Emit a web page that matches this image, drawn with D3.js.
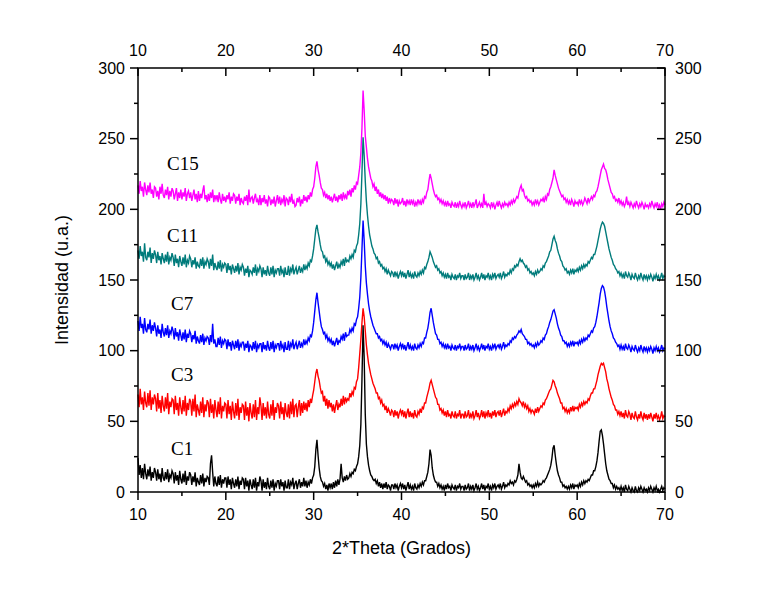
<!DOCTYPE html>
<html>
<head>
<meta charset="utf-8">
<script src="https://cdn.jsdelivr.net/npm/d3@7"></script>
<style>
  body { margin: 0; background: #fff; }
  .tick-label { font-family: "Liberation Sans", Arial, sans-serif; font-size: 16px; fill: #000; }
  .axis-title { font-family: "Liberation Sans", Arial, sans-serif; font-size: 18px; fill: #000; }
  .series-label { font-family: "Liberation Serif", "Times New Roman", serif; font-size: 19px; fill: #000; }
</style>
</head>
<body>
<div id="xrd-chart"></div>
<script>
// 2-theta grid: 10 .. 70 deg, one reading every 0.125 deg (481 readings per pattern)
const thetaStart = 10;
const thetaStep = 0.125;

const xTicks = [10, 20, 30, 40, 50, 60, 70];
const yTicks = [0, 50, 100, 150, 200, 250, 300];

const seriesNames = ['C15', 'C11', 'C7', 'C3', 'C1'];
const seriesColors = ['#ff00ff', '#007b7b', '#0000ff', '#ff0000', '#000000'];

// intensities, 8 readings per degree (one row = 2 degrees)
const c15 = [
  217,211,220,213,216,209,219,214, 210,217,212,219,211,214,208,216,
  215,209,213,207,216,211,218,210, 208,214,210,216,207,213,209,215,
  213,207,211,215,206,212,208,214, 207,212,209,215,206,211,213,208,
  212,206,210,214,207,211,205,213, 206,211,208,213,217,207,210,205,
  211,206,212,208,214,205,210,207, 210,205,212,207,204,211,206,209,
  205,210,207,212,204,209,206,211, 210,204,209,206,211,203,208,205,
  204,209,206,210,203,214,205,208, 209,204,208,211,205,207,203,210,
  203,208,205,210,204,207,202,209, 208,203,207,204,209,202,206,210,
  204,209,203,207,205,210,202,208, 207,203,209,205,211,204,206,202,
  203,208,205,209,202,207,204,210, 206,209,205,210,207,212,209,214,
  216,222,230,234,228,224,219,215, 214,210,212,208,211,207,210,206,
  209,205,208,211,206,209,205,210, 207,211,206,212,208,210,207,213,
  210,214,209,215,212,217,214,219, 218,224,230,240,258,284,270,252,
  244,236,230,226,222,220,216,218, 213,216,211,214,209,212,208,211,
  207,210,206,209,204,208,205,207, 206,203,208,204,207,202,206,204,
  205,208,203,206,202,207,204,206, 203,207,204,206,202,205,203,207,
  204,206,203,207,205,209,208,212, 214,220,225,222,218,214,211,209,
  210,207,208,205,207,204,206,203, 205,202,206,203,204,201,205,203,
  202,205,201,204,202,206,203,201, 204,202,205,201,203,206,202,204,
  201,205,202,204,207,201,203,205, 202,204,201,211,203,205,202,204,
  203,201,205,202,204,200,203,205, 202,206,203,201,204,202,205,203,
  204,202,205,203,206,204,207,205, 207,209,208,212,215,217,213,214,
  210,208,209,206,207,205,206,203, 205,203,207,204,206,203,205,207,
  206,208,205,209,207,211,210,214, 216,219,222,228,224,221,218,215,
  213,211,209,210,207,208,205,207, 204,206,203,207,205,202,206,204,
  205,203,207,204,206,203,205,208, 206,204,208,205,207,209,207,210,
  209,212,213,216,220,224,228,230, 232,229,228,225,221,218,215,212,
  211,208,209,206,207,205,208,204, 206,203,205,202,204,209,203,205,
  202,205,203,201,204,202,206,203, 201,204,202,205,203,200,204,202,
  203,201,204,202,206,203,201,204, 202,205,201,203,200,204,202,205,
  203
];
const c11 = [
  171,165,174,167,170,163,176,166, 164,170,166,173,162,169,165,171,
  168,162,170,164,167,161,169,165, 162,168,163,170,161,166,164,169,
  166,160,168,162,165,159,167,163, 160,166,161,168,159,164,162,167,
  165,159,164,161,166,158,163,160, 159,165,160,166,158,163,161,165,
  163,158,165,160,168,157,162,159, 157,163,158,164,156,161,159,162,
  161,155,162,157,160,154,161,158, 155,160,156,162,154,159,157,161,
  159,153,158,155,160,152,157,156, 154,159,155,161,153,158,156,160,
  158,152,159,154,157,153,160,155, 153,159,154,160,152,157,155,158,
  158,153,160,155,157,152,159,154, 154,160,153,158,156,161,154,157,
  159,154,157,160,155,158,156,161, 157,160,158,162,160,164,163,167,
  172,179,186,189,184,180,175,171, 170,166,167,163,165,161,163,160,
  162,158,161,157,160,163,158,161, 159,163,161,165,160,166,163,164,
  163,167,165,168,166,171,170,174, 176,182,190,204,226,251,238,220,
  206,196,188,182,178,174,172,169, 168,165,166,162,163,160,161,158,
  159,156,158,154,157,155,153,156, 155,152,156,153,155,151,154,156,
  153,156,152,155,151,154,157,152, 155,152,154,151,156,153,152,155,
  153,156,154,157,155,159,158,161, 163,166,170,168,166,163,161,159,
  160,157,158,155,156,153,155,152, 154,151,155,152,153,150,154,152,
  151,154,150,153,152,155,151,153, 153,150,154,151,152,155,150,153,
  151,154,150,152,155,151,153,150, 152,155,151,154,150,153,152,155,
  151,153,150,154,152,155,151,153, 154,152,155,151,153,156,152,154,
  153,155,154,157,155,158,157,160, 159,161,160,163,165,163,164,162,
  161,159,160,157,158,155,156,154, 155,153,156,154,157,155,156,158,
  157,160,159,162,163,165,167,170, 171,175,179,181,178,176,172,169,
  167,164,163,160,159,157,158,155, 156,154,157,155,158,154,157,156,
  158,156,159,157,160,158,161,159, 161,160,163,162,164,166,165,168,
  168,171,174,178,182,186,189,191, 190,188,184,180,176,172,169,166,
  164,161,160,158,157,155,156,153, 155,152,154,151,156,153,152,155,
  153,150,154,152,151,155,152,150, 153,151,155,152,150,154,151,153,
  150,153,151,154,152,149,153,151, 154,151,153,150,152,155,151,153,
  152
];
const c7 = [
  121,114,124,116,119,112,123,115, 113,119,115,122,112,118,114,120,
  116,110,118,112,115,109,119,113, 110,116,111,118,109,114,112,117,
  114,108,116,110,113,107,115,111, 107,113,108,115,106,112,109,114,
  112,106,111,108,114,105,110,107, 105,111,106,112,104,109,107,110,
  109,104,111,106,119,105,108,103, 103,109,104,110,102,107,105,108,
  107,101,108,103,106,100,107,104, 101,107,102,108,100,105,103,106,
  106,100,105,102,107,99,104,103, 100,106,101,107,99,104,102,105,
  105,99,106,101,104,100,107,102, 100,106,101,107,99,104,102,105,
  105,100,107,102,104,99,106,101, 101,107,100,105,103,108,101,104,
  106,101,104,107,102,105,103,108, 104,107,105,109,107,111,110,114,
  120,128,136,141,134,128,122,117, 115,112,113,109,111,107,109,106,
  108,104,107,103,106,109,104,107, 106,110,108,112,107,113,110,111,
  111,115,113,116,114,119,118,122, 124,130,138,152,172,192,178,160,
  148,140,133,128,124,121,118,116, 114,112,112,109,110,107,108,105,
  107,104,106,102,105,103,101,104, 104,101,105,102,104,100,103,105,
  102,105,101,104,100,103,106,101, 104,101,103,100,105,102,101,104,
  102,105,103,106,105,109,109,113, 116,121,127,130,125,120,116,112,
  111,108,108,105,106,103,105,102, 104,101,105,102,103,100,104,102,
  101,104,100,103,102,105,101,103, 103,100,104,101,102,105,100,103,
  101,104,100,102,105,101,103,100, 102,105,101,104,100,103,102,105,
  101,103,100,104,102,105,101,103, 104,102,105,101,103,106,102,104,
  103,105,104,107,106,109,108,110, 109,111,112,114,113,115,112,111,
  110,108,108,105,106,104,105,103, 104,102,105,103,106,104,105,107,
  106,109,108,111,112,115,117,120, 122,125,128,129,126,123,119,116,
  114,111,110,107,107,105,106,103, 105,103,106,104,107,103,106,105,
  106,104,107,105,108,106,109,107, 109,108,111,110,112,114,113,116,
  117,120,124,129,134,140,144,146, 145,142,137,131,126,121,117,114,
  112,109,108,106,105,103,104,101, 104,101,103,100,105,102,101,104,
  102,99,103,101,100,104,101,99, 102,100,104,101,99,103,100,102,
  99,102,100,103,101,98,102,100, 103,100,102,99,101,104,100,102,
  101
];
const c3 = [
  69,60,73,62,67,58,71,63, 60,70,61,72,58,67,62,69,
  66,57,70,59,65,56,68,61, 57,67,59,70,55,64,60,66,
  65,55,68,58,63,54,67,60, 55,65,57,68,54,63,58,66,
  64,54,66,57,69,53,62,58, 54,64,56,67,53,62,57,65,
  63,53,66,56,62,52,65,58, 53,64,55,67,52,61,57,63,
  62,52,65,55,61,51,64,57, 52,63,54,66,51,60,56,62,
  61,51,64,54,60,50,63,56, 52,62,53,65,51,60,55,67,
  61,51,63,54,60,52,64,55, 52,62,54,65,51,60,56,63,
  61,52,64,55,60,51,63,56, 53,62,52,64,55,66,53,61,
  62,53,60,65,54,63,56,64, 58,63,57,65,60,66,63,68,
  72,78,84,87,82,79,74,70, 71,64,68,61,66,59,65,60,
  63,57,62,56,61,65,58,62, 60,66,61,68,62,67,64,66,
  65,70,67,71,69,74,73,78, 80,88,98,108,120,130,124,114,
  104,97,91,87,83,80,77,75, 73,70,70,66,67,63,65,61,
  62,58,61,56,59,57,54,58, 57,53,58,54,57,52,56,58,
  55,58,53,57,52,56,59,53, 57,53,56,52,58,54,53,57,
  55,59,56,60,59,63,63,67, 70,73,77,79,76,73,70,67,
  66,62,62,58,59,56,58,54, 57,53,58,54,55,52,57,54,
  53,57,52,55,54,58,52,55, 55,52,57,53,54,58,52,55,
  53,57,52,54,58,53,56,52, 54,58,53,57,52,56,54,58,
  53,56,52,57,54,58,53,56, 57,54,58,53,56,59,54,57,
  56,59,57,61,59,62,60,63, 61,64,62,66,64,63,61,64,
  60,62,59,61,57,59,56,58, 57,55,59,56,60,57,59,61,
  60,63,62,65,66,68,70,72, 73,76,79,78,75,73,70,68,
  66,63,63,59,60,57,59,56, 58,56,60,57,61,57,60,59,
  60,58,62,60,63,61,64,62, 64,63,66,65,68,70,70,73,
  73,76,79,83,86,89,91,90, 91,88,85,80,77,73,70,67,
  65,62,61,58,58,55,57,54, 57,53,56,52,58,54,53,57,
  55,51,56,53,52,57,53,51, 55,52,57,53,51,56,52,55,
  51,55,52,56,53,50,55,52, 56,52,54,51,53,57,52,54,
  53
];
const c1 = [
  24,12,19,10,17,9,20,13, 9,16,11,18,8,14,10,17,
  14,8,16,9,13,7,17,10, 8,14,9,16,7,12,10,15,
  13,6,14,8,12,5,15,9, 6,13,7,15,5,11,8,14,
  12,5,11,7,14,4,10,7, 5,12,6,13,4,10,7,11,
  10,5,20,26,14,4,11,6, 4,11,5,12,3,9,6,10,
  10,3,11,5,9,2,10,6, 3,9,4,11,2,8,5,10,
  9,2,10,4,8,1,9,5, 2,9,3,10,1,7,4,11,
  8,1,9,3,7,2,10,4, 2,8,3,9,1,6,4,8,
  8,2,9,4,7,1,8,3, 3,9,2,7,5,10,2,6,
  8,2,6,9,3,7,4,10, 4,8,3,7,5,9,6,10,
  12,18,30,37,26,17,11,8, 7,4,6,2,5,1,6,3,
  6,2,7,3,8,4,9,5, 9,20,10,7,11,8,12,9,
  10,13,11,14,13,16,15,18, 20,25,33,48,80,118,95,55,
  34,25,19,15,12,11,9,8, 9,6,8,4,7,3,6,2,
  6,3,7,2,5,4,1,5, 5,2,6,3,5,1,4,6,
  3,6,2,5,1,4,7,2, 5,2,4,1,6,3,2,5,
  3,6,4,7,5,8,8,11, 14,20,30,26,17,12,9,7,
  7,4,6,3,5,2,4,1, 5,2,6,3,4,1,5,3,
  2,5,1,4,3,6,2,4, 4,1,5,2,3,6,1,4,
  2,5,1,3,6,2,4,1, 3,6,2,5,1,4,3,6,
  2,4,1,5,3,6,2,4, 5,3,6,2,4,7,3,5,
  4,6,5,8,6,7,5,8, 7,9,12,20,14,10,9,11,
  9,7,8,5,6,4,5,3, 5,3,6,4,7,4,6,5,
  6,8,7,9,10,12,14,16, 19,24,31,33,26,20,15,12,
  10,7,7,4,5,3,4,2, 4,2,5,3,6,2,5,4,
  5,3,6,4,7,5,8,6, 8,7,9,8,10,12,12,15,
  15,18,22,28,36,43,44,40, 34,27,20,15,12,9,8,6,
  6,3,5,2,4,2,3,1, 4,1,3,0,5,2,1,4,
  2,0,3,1,0,4,1,0, 3,1,4,2,0,3,1,2,
  0,3,1,4,2,0,3,1, 4,1,2,0,2,4,1,3,
  2
];

class XrdChart {
  constructor(_config, _series) {
    this.config = {
      parentElement: _config.parentElement,
      containerWidth: 773,
      containerHeight: 591,
      margin: {top: 68, right: 108, bottom: 99, left: 138},
      majorTick: 8,
      minorTick: 4
    };
    this.series = _series;
    this.initVis();
  }

  initVis() {
    let vis = this;
    vis.width = vis.config.containerWidth - vis.config.margin.left - vis.config.margin.right;
    vis.height = vis.config.containerHeight - vis.config.margin.top - vis.config.margin.bottom;

    vis.svg = d3.select(vis.config.parentElement)
      .append('svg')
      .attr('width', vis.config.containerWidth)
      .attr('height', vis.config.containerHeight)
      .append('g')
      .attr('transform', `translate(${vis.config.margin.left},${vis.config.margin.top})`);

    vis.xScale = d3.scaleLinear().domain([10, 70]).range([0, vis.width]);
    vis.yScale = d3.scaleLinear().domain([0, 300]).range([vis.height, 0]);

    vis.line = d3.line()
      .x((d, i) => vis.xScale(thetaStart + i * thetaStep))
      .y(d => vis.yScale(d));

    vis.renderVis();
  }

  renderVis() {
    let vis = this;
    const M = vis.config.majorTick, m = vis.config.minorTick;
    const xMinor = d3.range(15, 70, 10);
    const yMinor = d3.range(25, 300, 50);

    // patterns, top one first so lower ones sit above it
    vis.svg.selectAll('path.pattern')
      .data(vis.series)
      .join('path')
      .attr('class', 'pattern')
      .attr('fill', 'none')
      .attr('stroke', d => d.color)
      .attr('stroke-width', 1.4)
      .attr('d', d => vis.line(d.values));

    vis.svg.selectAll('text.series-label')
      .data(vis.series)
      .join('text')
      .attr('class', 'series-label')
      .attr('x', 29)
      .attr('y', d => d.labelY)
      .attr('dx', d => d.name.length === 3 ? 0 : 4)
      .text(d => d.name);

    // frame
    vis.svg.append('rect')
      .attr('width', vis.width)
      .attr('height', vis.height)
      .attr('fill', 'none')
      .attr('stroke', '#000')
      .attr('stroke-width', 1.5);

    const ticks = vis.svg.append('g').attr('stroke', '#000').attr('stroke-width', 1.5);

    // bottom: outward, top: inward
    ticks.selectAll('.xb').data(xTicks).join('line').attr('class', 'xb')
      .attr('x1', d => vis.xScale(d)).attr('x2', d => vis.xScale(d))
      .attr('y1', vis.height).attr('y2', vis.height + M);
    ticks.selectAll('.xbm').data(xMinor).join('line').attr('class', 'xbm')
      .attr('x1', d => vis.xScale(d)).attr('x2', d => vis.xScale(d))
      .attr('y1', vis.height).attr('y2', vis.height + m);
    ticks.selectAll('.xt').data(xTicks).join('line').attr('class', 'xt')
      .attr('x1', d => vis.xScale(d)).attr('x2', d => vis.xScale(d))
      .attr('y1', 0).attr('y2', M);
    ticks.selectAll('.xtm').data(xMinor).join('line').attr('class', 'xtm')
      .attr('x1', d => vis.xScale(d)).attr('x2', d => vis.xScale(d))
      .attr('y1', 0).attr('y2', m);

    // left: outward, right: inward
    ticks.selectAll('.yl').data(yTicks).join('line').attr('class', 'yl')
      .attr('y1', d => vis.yScale(d)).attr('y2', d => vis.yScale(d))
      .attr('x1', 0).attr('x2', -M);
    ticks.selectAll('.ylm').data(yMinor).join('line').attr('class', 'ylm')
      .attr('y1', d => vis.yScale(d)).attr('y2', d => vis.yScale(d))
      .attr('x1', 0).attr('x2', -m);
    ticks.selectAll('.yr').data(yTicks).join('line').attr('class', 'yr')
      .attr('y1', d => vis.yScale(d)).attr('y2', d => vis.yScale(d))
      .attr('x1', vis.width).attr('x2', vis.width - M);
    ticks.selectAll('.yrm').data(yMinor).join('line').attr('class', 'yrm')
      .attr('y1', d => vis.yScale(d)).attr('y2', d => vis.yScale(d))
      .attr('x1', vis.width).attr('x2', vis.width - m);

    // tick labels
    vis.svg.selectAll('text.xlab-b').data(xTicks).join('text')
      .attr('class', 'tick-label xlab-b')
      .attr('x', d => vis.xScale(d)).attr('y', vis.height + 28)
      .attr('text-anchor', 'middle').text(d => d);
    vis.svg.selectAll('text.xlab-t').data(xTicks).join('text')
      .attr('class', 'tick-label xlab-t')
      .attr('x', d => vis.xScale(d)).attr('y', -12)
      .attr('text-anchor', 'middle').text(d => d);
    vis.svg.selectAll('text.ylab-l').data(yTicks).join('text')
      .attr('class', 'tick-label ylab-l')
      .attr('x', -13).attr('y', d => vis.yScale(d)).attr('dy', '0.36em')
      .attr('text-anchor', 'end').text(d => d);
    vis.svg.selectAll('text.ylab-r').data(yTicks).join('text')
      .attr('class', 'tick-label ylab-r')
      .attr('x', vis.width + 10).attr('y', d => vis.yScale(d)).attr('dy', '0.36em')
      .attr('text-anchor', 'start').text(d => d);

    // axis titles
    vis.svg.append('text')
      .attr('class', 'axis-title')
      .attr('x', vis.width / 2).attr('y', vis.height + 62)
      .attr('text-anchor', 'middle')
      .text('2*Theta (Grados)');
    vis.svg.append('text')
      .attr('class', 'axis-title')
      .attr('transform', `translate(-70,${vis.height / 2}) rotate(-90)`)
      .attr('text-anchor', 'middle')
      .text('Intensidad (u.a.)');
  }
}

const labelYs = [102, 174, 242, 313, 387];
const patterns = [c15, c11, c7, c3, c1].map((values, i) => ({
  name: seriesNames[i],
  color: seriesColors[i],
  labelY: labelYs[i],
  values: values
}));

new XrdChart({parentElement: '#xrd-chart'}, patterns);
</script>
</body>
</html>
